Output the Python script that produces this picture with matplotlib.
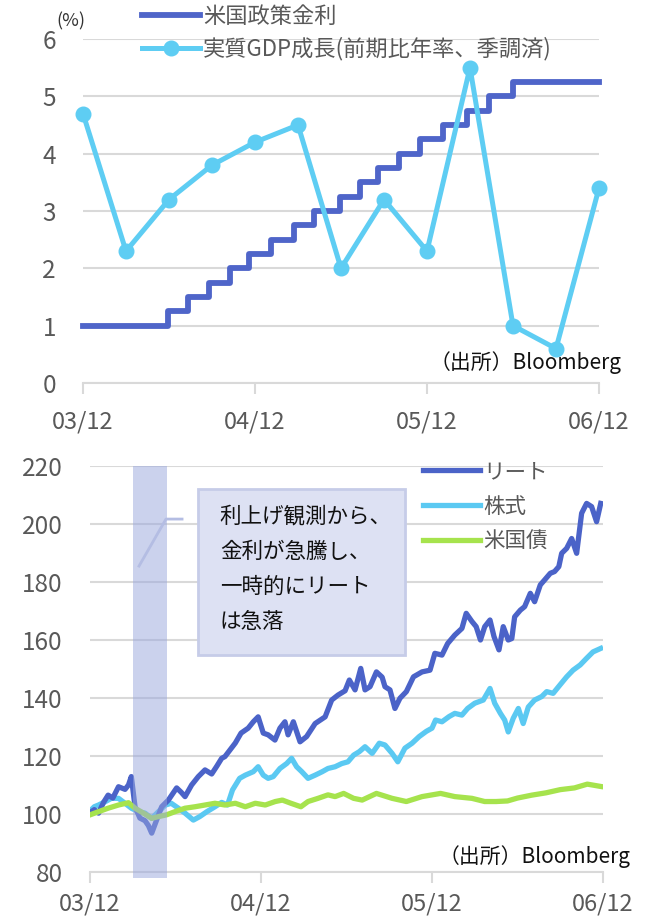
import matplotlib
matplotlib.use('Agg')
from matplotlib import pyplot as plt
import numpy as np

plt.rcParams['font.family'] = ['Noto Sans CJK JP', 'DejaVu Sans']

# months counted from 03/12
x_ticks = [0, 12, 24, 36]
x_labels = ['03/12', '04/12', '05/12', '06/12']

# --- top panel data ---
gdp_month = [0, 3, 6, 9, 12, 15, 18, 21, 24, 27, 30, 33, 36]
gdp = [4.7, 2.3, 3.2, 3.8, 4.2, 4.5, 2.0, 3.2, 2.3, 5.5, 1.0, 0.6, 3.4]

rate_month = [0, 5.9, 7.35, 8.8, 10.25, 11.55, 13.1, 14.7, 16.15, 17.9, 19.35,
              20.6, 22.05, 23.5, 25.1, 26.8, 28.3, 30.0, 36]
rate = [1.0, 1.25, 1.5, 1.75, 2.0, 2.25, 2.5, 2.75, 3.0, 3.25, 3.5,
        3.75, 4.0, 4.25, 4.5, 4.75, 5.0, 5.25, 5.25]

# --- bottom panel data ---
reit_month = [0.0, 0.3, 0.6, 0.95, 1.27, 1.6, 2.0, 2.46, 2.7, 2.9, 3.16, 3.5, 3.86, 4.1,
              4.33, 4.68, 5.03, 5.5, 6.08, 6.4, 6.67, 7.13, 7.6, 8.07, 8.54, 8.9, 9.24,
              9.47, 10.2, 10.6, 11.1, 11.46, 11.8, 12.16, 12.5, 12.98, 13.33, 13.68,
              13.9, 14.27, 14.74, 15.2, 15.8, 16.5, 16.96, 17.4, 17.9, 18.2, 18.6, 19.0,
              19.3, 19.65, 20.1, 20.5, 20.7, 21.05, 21.4, 21.75, 22.2, 22.7, 23.3, 23.86,
              24.2, 24.7, 25.1, 25.6, 26.1, 26.4, 26.8, 27.1, 27.4, 27.7, 28.07, 28.35,
              28.7, 29.0, 29.35, 29.6, 29.8, 30.2, 30.5, 30.9, 31.2, 31.6, 31.9, 32.3,
              32.6, 32.9, 33.1, 33.45, 33.8, 34.15, 34.5, 34.85, 35.2, 35.55, 35.84]
reit = [100.5, 101.5, 100.3, 104, 106.5, 105.5, 109.4, 108.5, 110, 112.9, 102.5, 98.6,
        97.7, 96, 93.4, 98, 102.5, 104.8, 109, 107.5, 106, 110, 112.9, 115.2, 113.8,
        116.5, 119.2, 119.8, 124.5, 127.9, 129.6, 131.8, 133.5, 127.9, 127.3, 125.5,
        129.6, 131.8, 127.3, 131.8, 124.9, 126.7, 131.2, 133.5, 139.3, 141.0, 142.5,
        146.2, 142.8, 150.2, 142.8, 143.9, 149, 147.2, 143.9, 142.8, 136.4, 139.9,
        142.2, 147.3, 149, 149.6, 155.4, 154.8, 158.8, 161.7, 164, 169.2, 166.4, 164.6,
        160, 164.6, 166.9, 161.2, 156.6, 164.6, 160, 160.5, 168, 170.3, 171.5, 176.1,
        173.2, 179, 180.7, 183, 183.6, 185.3, 189.9, 191.6, 195, 189.9, 203.7, 207.1,
        206, 200.8, 207.1]

stock_month = [0.0, 0.3, 0.6, 1.05, 1.5, 2.0, 2.46, 2.9, 3.4, 3.86, 4.33, 4.8, 5.3, 5.7,
               6.2, 6.67, 7.25, 7.7, 8.2, 8.77, 9.24, 9.65, 10.0, 10.5, 10.9, 11.46,
               11.8, 12.16, 12.5, 12.86, 13.33, 13.8, 14.15, 14.5, 14.86, 15.3, 15.8,
               16.3, 16.7, 17.2, 17.67, 18.1, 18.5, 18.9, 19.3, 19.8, 20.3, 20.7, 21.2,
               21.6, 22.1, 22.6, 23.1, 23.6, 24.0, 24.25, 24.7, 25.2, 25.6, 26.1, 26.5,
               27.0, 27.6, 28.07, 28.4, 28.8, 29.1, 29.35, 29.7, 30.06, 30.4, 30.76,
               31.2, 31.7, 32.05, 32.5, 32.98, 33.45, 33.9, 34.4, 34.85, 35.3, 35.84]
stock = [101, 102.5, 103.1, 104.2, 105.4, 105.4, 103.7, 102, 100.8, 100.3, 98.5, 100.8,
         103.1, 103.7, 102, 100.3, 97.9, 99.1, 100.8, 102.5, 104, 103.1, 108.3, 112.3,
         113.4, 114.6, 116.3, 113.4, 112.3, 112.9, 115.7, 117.4, 119.2, 116.3, 114.6,
         112.3, 113.4, 114.6, 115.7, 116.3, 117.4, 118, 120.3, 121.5, 123.2, 120.9,
         124.4, 123.8, 120.9, 118, 122.7, 124.4, 126.7, 128.5, 129.6, 132.4, 131.8,
         133.6, 134.7, 134.1, 136.4, 138.2, 139.3, 143.3, 138.2, 134.7, 132.4, 128.3,
         133, 136.4, 131.2, 136.9, 139.3, 140.5, 142.2, 141.6, 144.5, 147.3, 149.6,
         151.4, 153.7, 155.9, 157.1]

bond_month = [0.0, 0.6, 1.27, 2.0, 2.7, 3.16, 3.75, 4.33, 4.8, 5.36, 5.96, 6.67, 7.37,
              8.07, 8.77, 9.47, 10.2, 10.9, 11.6, 12.3, 13.0, 13.5, 14.1, 14.8, 15.3,
              16.0, 16.7, 17.2, 17.8, 18.5, 19.1, 20.1, 21.2, 22.2, 23.3, 24.6, 25.6,
              26.8, 27.7, 28.5, 29.3, 30.0, 31.0, 32.0, 33.0, 34.0, 34.9, 35.84]
bond = [99.7, 100.8, 102, 103.1, 103.9, 102, 100.3, 98.5, 99.1, 99.7, 100.8, 102, 102.5,
        103.1, 103.7, 103.1, 103.7, 102.5, 103.7, 103.1, 104.3, 104.8, 103.7, 102.5,
        104.3, 105.4, 106.6, 106, 107.1, 105.4, 104.8, 107.1, 105.4, 104.3, 106, 107.1,
        106, 105.4, 104.3, 104.3, 104.5, 105.5, 106.5, 107.3, 108.4, 109, 110.3, 109.5]

note_lines = ['利上げ観測から、', '金利が急騰し、', '一時的にリート', 'は急落']

W, H = 646, 919
fig = plt.figure(figsize=(W / 100, H / 100), dpi=100)

GRID = '#d9d9d9'
TICK = '#595959'


def style_axes(ax, yt, xpad):
    for s in ['top', 'right', 'left']:
        ax.spines[s].set_visible(False)
    ax.spines['bottom'].set_color(GRID)
    ax.spines['bottom'].set_linewidth(1.5)
    ax.set_yticks(yt)
    ax.yaxis.grid(True, color=GRID, linewidth=1.5)
    ax.set_axisbelow(True)
    ax.tick_params(axis='y', length=0, pad=19.5, labelsize=17.5, labelcolor=TICK)
    ax.tick_params(axis='x', length=8, width=1.5, color=GRID, pad=xpad,
                   labelsize=17, labelcolor=TICK)
    ax.set_xticks(x_ticks)
    ax.set_xticklabels(x_labels)
    ax.set_xlim(0, 36)


# ---------- top panel ----------
ax1 = fig.add_axes([83 / W, 1 - 383 / H, 516 / W, 344 / H])
style_axes(ax1, range(0, 7), 12)
ax1.set_ylim(0, 6)
ax1.plot(rate_month, rate, drawstyle='steps-post', color='#4f65c9', lw=4.2,
         label='米国政策金利', clip_on=False)
ax1.plot(gdp_month, gdp, color='#5ecdf3', lw=3.6, marker='o', markersize=10.5,
         label='実質GDP成長(前期比年率、季調済)', clip_on=False)
ax1.legend(loc='upper left', bbox_to_anchor=(142 / W, 1 - 5 / H),
           bbox_transform=fig.transFigure, frameon=False, fontsize=16,
           labelcolor=TICK, handlelength=2.6, handletextpad=0.15, labelspacing=0.4,
           borderaxespad=0, borderpad=0)
fig.text(56 / W, 1 - 21 / H, '(%)', fontsize=13, color='#333333', va='center')
fig.text(622 / W, 1 - 363 / H, '（出所）Bloomberg', fontsize=15, color='#111111',
         ha='right', va='center')

# ---------- bottom panel ----------
ax2 = fig.add_axes([90 / W, 1 - 872 / H, 513 / W, 406 / H])
style_axes(ax2, range(80, 221, 20), 7)
ax2.set_ylim(80, 220)
ax2.plot(reit_month, reit, color='#4b63c8', lw=3.8, label='リート', zorder=4)
ax2.plot(stock_month, stock, color='#5bc9f2', lw=3.8, label='株式', zorder=3)
ax2.plot(bond_month, bond, color='#a6e34d', lw=3.8, label='米国債', zorder=5)

# shaded period (Apr-May 2004)
ax2.axvspan(3.0, 5.4, ymin=-0.015, ymax=1.0, color='#99a7dd', alpha=0.5,
            lw=0, zorder=6, clip_on=False)

# callout
ax2.plot([3.44, 5.33, 6.46], [185.5, 201.7, 201.7], color='#b4bde3', lw=2, zorder=7)
box = plt.Rectangle((7.6, 154.8), 14.5, 57.2, facecolor='#dde1f3',
                    edgecolor='#c6cce8', lw=2, zorder=8)
ax2.add_patch(box)
for i, line in enumerate(note_lines):
    ax2.text(9.1, 202.5 - i * 12.07, line, fontsize=15.5, color='#111111',
             va='center', ha='left', zorder=9)

ax2.legend(loc='upper left', bbox_to_anchor=(423 / W, 1 - 461 / H),
           bbox_transform=fig.transFigure, frameon=False, fontsize=15.5,
           labelcolor=TICK, handlelength=2.65, handletextpad=0.15, labelspacing=0.6,
           borderaxespad=0, borderpad=0)
fig.text(631 / W, 1 - 857 / H, '（出所）Bloomberg', fontsize=15, color='#111111',
         ha='right', va='center')

plt.savefig('out.png', dpi=100)
